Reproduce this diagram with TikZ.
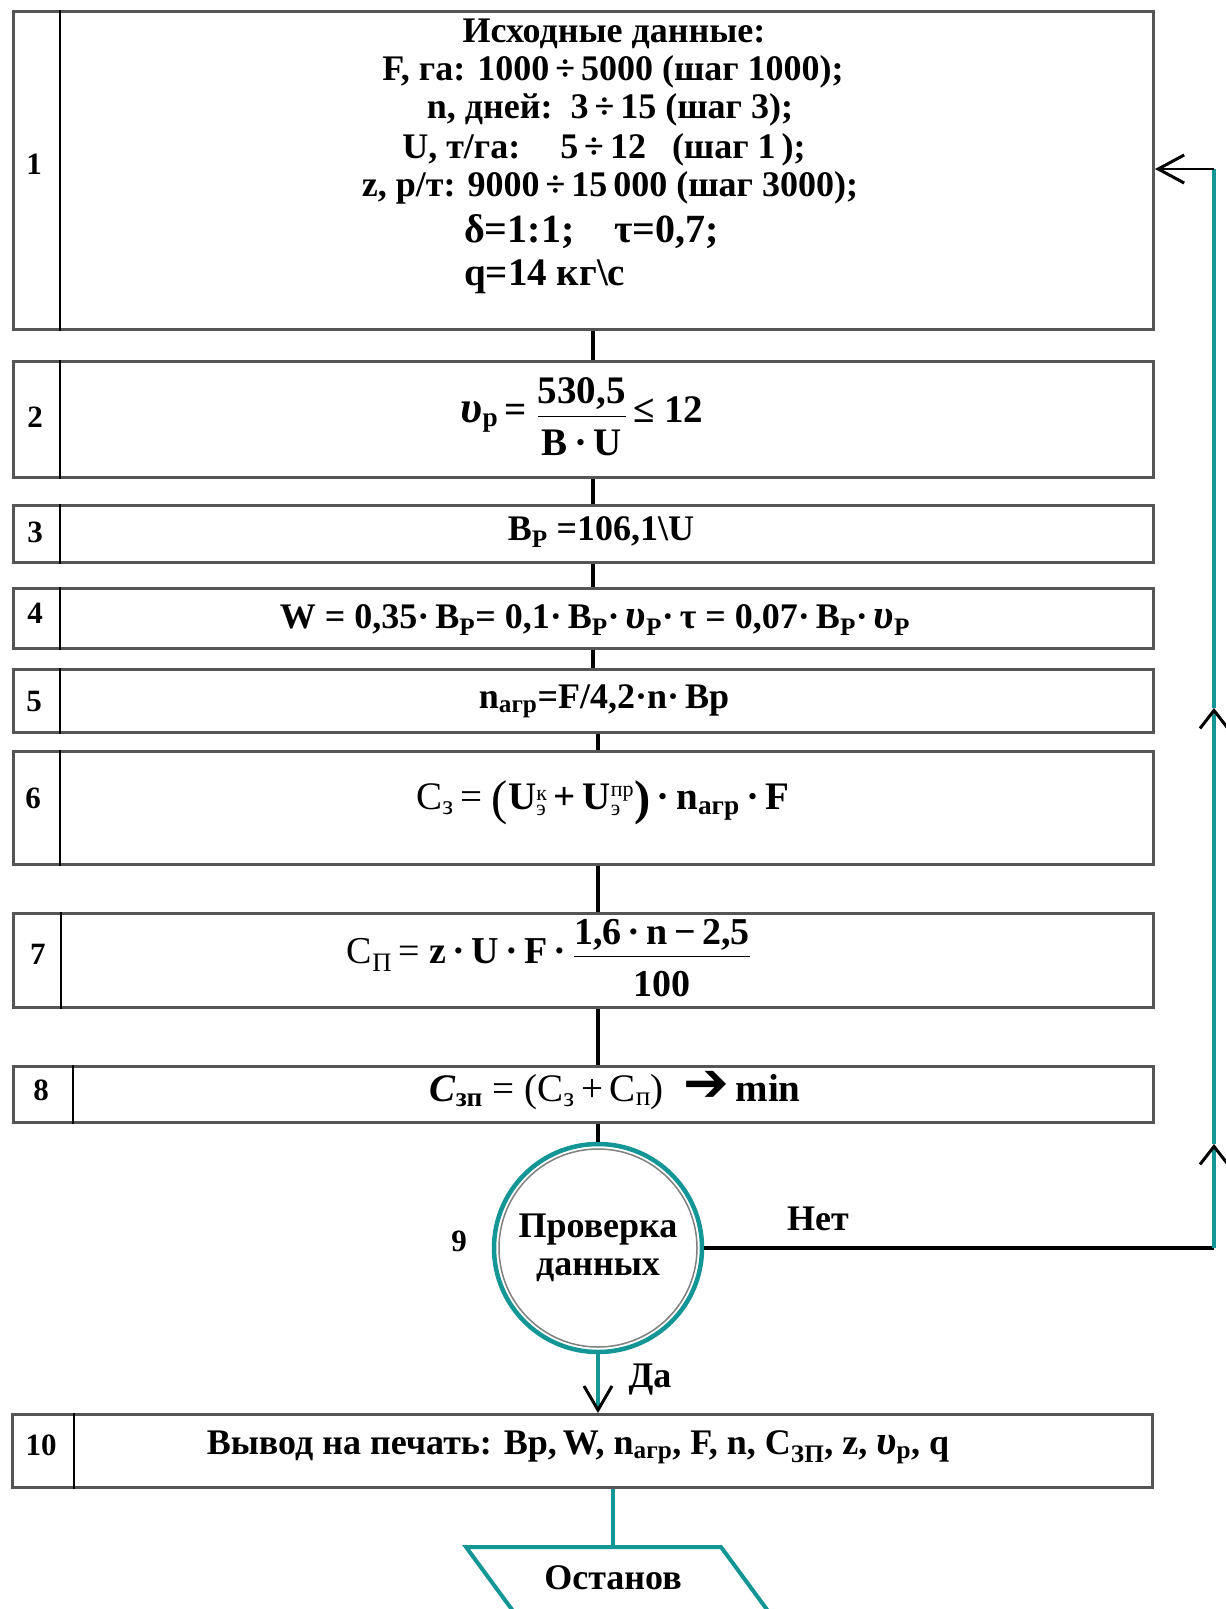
\documentclass[tikz,border=0pt]{standalone}
\usepackage{fontspec}
\setmainfont{Liberation Serif}
\newfontfamily\djv{DejaVu Sans}
\usepackage{amsmath}
\usepackage{graphicx}
\usetikzlibrary{arrows.meta}
\definecolor{tealc}{RGB}{20,150,150}
\definecolor{boxc}{RGB}{85,85,85}
\newcommand\ups{{\bfseries\itshape\scalebox{1.15}{υ}}}
\newcommand\sbr{\textsubscript{р}}
\newcommand\frc[2]{$\dfrac{\hbox{\rule[-9pt]{0pt}{9pt}#1}}{\hbox{\rule{0pt}{36pt}#2}}$}
\newcommand\supsubx[2]{$^{\hbox{\fontsize{22}{22}\selectfont\mdseries #1}}_{\hbox{\fontsize{22}{22}\selectfont\mdseries #2}}$}
\begin{document}
\begin{tikzpicture}[x=1pt,y=-1pt,
  box/.style={draw=boxc, line width=3pt, inner sep=0pt, anchor=north west, minimum width=1140pt},
  divl/.style={black, line width=1.5pt},
  conn/.style={black, line width=3.5pt},
  tline/.style={tealc, line width=4pt},
  num/.style={font=\fontsize{31}{31}\selectfont\bfseries, inner sep=0pt},
  txt/.style={font=\fontsize{36}{38}\selectfont\bfseries, inner sep=0pt, align=center},
  barb/.style={-{Straight Barb[color=black, length=#1, width=28pt, line width=3pt]}},
]
\clip (0,0) rectangle (1226,1609);
\fill[white] (0,0) rectangle (1226,1609);
\coordinate (colA) at (593,0);
\coordinate (colB) at (598,0);
% boxes
\node[box, minimum height=318pt] (b1) at (12,10) {};
\node[box, minimum height=116pt] (b2) at (12,360) {};
\node[box, minimum height=57pt] (b3) at (12,504) {};
\node[box, minimum height=60pt] (b4) at (12,587) {};
\node[box, minimum height=63pt] (b5) at (12,668) {};
\node[box, minimum height=113pt] (b6) at (12,750) {};
\node[box, minimum height=94pt] (b7) at (12,912) {};
\node[box, minimum height=56pt] (b8) at (12,1065) {};
\node[box, minimum height=73pt] (b10) at (11,1413) {};
% dividers
\foreach \b/\d in {b1/48,b2/48,b3/48,b4/48,b5/48,b6/48,b7/49,b8/61,b10/63}
  \draw[divl] ([xshift=\d pt]\b.north west) -- ([xshift=\d pt]\b.south west);
% numbers
\node[num] (n1) at (34,164) {1};
\node[num] (n2) at (35,417) {2};
\node[num] (n3) at (35,532) {3};
\node[num] (n4) at (35,613) {4};
\node[num] (n5) at (34,701) {5};
\node[num] (n6) at (33,798) {6};
\node[num] (n7) at (38,954) {7};
\node[num] (n8) at (41,1090) {8};
\node[num] (n10) at (41,1445) {10};
% box 1 text
\node[txt] (t1a) at (614,34) {Исходные данные:};
\node[txt] (t1b) at (613,72) {F, га: 1000\,÷\,5000 (шаг 1000);};
\node[txt] (t1c) at (610,110) {n, дней:\ \ 3\,÷\,15 (шаг 3);};
\node[txt] (t1d) at (604,150) {U, т/га:\hspace{40pt}5\,÷\,12\hspace{26pt}(шаг 1\,);};
\node[txt] (t1e) at (610,188) {z, р/т: 9000\,÷\,15\,000 (шаг 3000);};
\node[txt, anchor=west, font=\fontsize{40}{40}\selectfont\bfseries] (t1f) at (464,232) {δ=1:1;\hspace{40pt}τ=0,7;};
\node[txt, anchor=west, font=\fontsize{39}{40}\selectfont\bfseries] (t1g) at (464,277) {q=14 кг\textbackslash с};
% box 2
\node[txt, font=\fontsize{39}{40}\selectfont\bfseries] (t2) at (582,417) {\ups\sbr\,= \frc{530,5}{B\,·\,U}\,≤ 12};
% box 3
\node[txt] (t3) at (601,532) {B\textsubscript{Р} =106,1\textbackslash U};
% box 4
\node[txt] (t4) at (595,620) {W = 0,35·\,B\textsubscript{Р}= 0,1·\,B\textsubscript{Р}·\,\ups\textsubscript{Р}·\,τ = 0,07·\,B\textsubscript{Р}·\,\ups\textsubscript{Р}};
% box 5
\node[txt] (t5) at (604,701) {n\textsubscript{агр}=F/4,2·n·\,Bр};
% box 6
\node[txt, font=\fontsize{39}{40}\selectfont\bfseries] (t6) at (603,803) {\mdseries C\textsubscript{з}\,= \raisebox{-5pt}{\scalebox{1.25}{(}}\bfseries U\supsubx{к}{э}\,+\,U\supsubx{пр}{э}\raisebox{-5pt}{\scalebox{1.25}{)}}\,·\,n\textsubscript{агр}\,·\,F};
% box 7
\node[txt, font=\fontsize{38}{40}\selectfont\bfseries] (t7) at (549,958) {\mdseries C\textsubscript{П}\,= \bfseries z\,·\,U\,·\,F\,·\,\frc{1,6\,·\,n\,−\,2,5}{100}};
% box 8
\node[txt, font=\fontsize{39}{40}\selectfont\bfseries] (t8) at (615,1091) {\textit{C}\textsubscript{зп} \mdseries= (C\textsubscript{з}\,+\,C\textsubscript{п})\ \ {\djv\bfseries\scalebox{1.4}{➔}}\,\bfseries min};
% circle 9
\node[circle, draw=tealc, line width=4.5pt, minimum size=208pt, inner sep=0pt, txt] (c9) at (598,1248) {Проверка\\данных};
\draw[gray, line width=1.5pt] (c9.center) circle (99);
\node[num] (l9) at (459,1241) {9};
\node[txt] (lnet) at (818,1219) {Нет};
\node[txt] (lda) at (650,1380) {Да};
% box 10
\node[txt] (t10) at (578,1447) {Вывод на печать: Bр,\,W, n\textsubscript{агр}, F, n, C\textsubscript{ЗП}, z, \ups\textsubscript{р}, q};
% stop
\coordinate (stl) at (466,1547);
\coordinate (str) at (721,1547);
\draw[tline] (stl) -- (str) -- (782,1630) -- (527,1630) -- cycle;
\node[txt] (stop) at (613,1578) {Останов};
% connectors
\draw[conn] (b1.south -| colA) -- (b2.north -| colA);
\draw[conn] (b2.south -| colA) -- (b3.north -| colA);
\draw[conn] (b3.south -| colA) -- (b4.north -| colA);
\draw[conn] (b4.south -| colA) -- (b5.north -| colA);
\draw[conn] (b5.south -| colB) -- (b6.north -| colB);
\draw[conn] (b6.south -| colB) -- (b7.north -| colB);
\draw[conn] (b7.south -| colB) -- (b8.north -| colB);
\draw[conn] (b8.south -| colB) -- (c9.north);
\draw[tline, barb=24pt] (c9.south) -- (b10.north -| c9.south);
\draw[tline] (b10.south -| stop) -- (stl -| stop);
% loop back
\coordinate (lr) at (1214,1248);
\coordinate (lt) at (1214,169);
\coordinate (m1) at (1214,1144);
\coordinate (m2) at (1214,708);
\draw[black, line width=4.5pt] (c9.east) -- (lr);
\draw[tline, barb=18pt] (lr) -- (m1);
\draw[tline, barb=18pt] (m1) -- (m2);
\draw[tline] (m2) -- (lt);
\draw[black, line width=2pt, -{Straight Barb[length=26pt, width=28pt, line width=3pt]}] (lt) -- (b1.east |- lt);
\end{tikzpicture}
\end{document}
